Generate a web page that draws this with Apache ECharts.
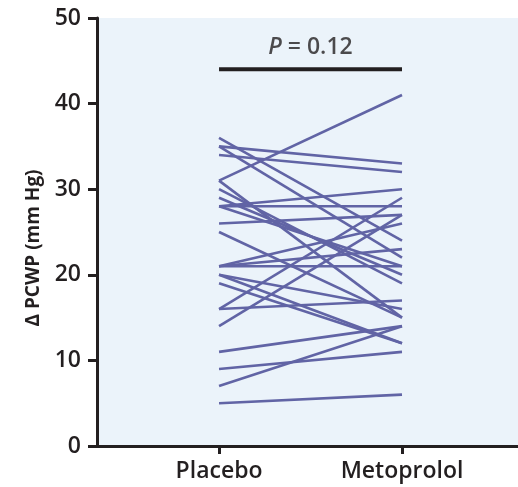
<!DOCTYPE html>
<html><head><meta charset="utf-8">
<script src="https://cdn.jsdelivr.net/npm/echarts@6/dist/echarts.min.js"></script>
<style>html,body{margin:0;padding:0;background:#fff}#c{width:518px;height:487px}</style>
</head><body><div id="c"></div>
<script>
const categories = ['Placebo', 'Metoprolol'];
const placebo    = [36, 35, 35, 34, 31, 31, 30, 29, 28, 28, 28, 26, 25, 21, 21, 21, 20, 20, 19, 16, 16, 14, 11, 9, 7, 5];
const metoprolol = [24, 33, 22, 32, 41, 15, 19, 20, 28, 30, 21, 27, 15, 21, 23, 26, 12, 16, 12, 17, 29, 27, 14, 11, 14, 6];
const yTicks = [0, 10, 20, 30, 40, 50];
const pText = '0.12';
const barLevel = 44;
const labelLevel = 46.6;

const font = '"Open Sans", "Noto Sans", sans-serif';
const dark = '#231f20';
const lineColor = '#6164a5';

const series = placebo.map((p, i) => ({
  type: 'line', symbol: 'none', silent: true,
  lineStyle: { color: lineColor, width: 2.6 },
  data: [[0, p], [1, metoprolol[i]]]
}));
series.push({
  type: 'line', symbol: 'none', silent: true,
  lineStyle: { color: dark, width: 4 },
  data: [[0, barLevel], [1, barLevel]]
});
series.push({
  type: 'scatter', symbolSize: 0, silent: true,
  data: [[0.5, labelLevel]],
  label: {
    show: true, position: 'inside',
    formatter: '{i|P}{n| = ' + pText + '}',
    rich: {
      i: { fontStyle: 'italic', fontWeight: 600, fontFamily: font, fontSize: 23, color: dark },
      n: { fontWeight: 600, fontFamily: font, fontSize: 23, color: dark }
    }
  }
});

const chart = echarts.init(document.getElementById('c'), null, { renderer: 'canvas' });
chart.setOption({
  animation: false,
  grid: { left: 97, right: 0, top: 18, bottom: 41, show: true, backgroundColor: '#ebf3fa', borderWidth: 0 },
  xAxis: {
    type: 'value', min: -0.667, max: 1.634,
    splitLine: { show: false },
    axisLine: { onZero: false, lineStyle: { color: dark, width: 3 } },
    axisTick: { show: true, customValues: [0, 1], length: 8, lineStyle: { color: dark, width: 3 } },
    axisLabel: {
      customValues: [0, 1], margin: 14,
      formatter: v => categories[Math.round(v)] || '',
      fontFamily: font, fontSize: 23, fontWeight: 600, color: dark
    }
  },
  yAxis: {
    type: 'value', min: yTicks[0], max: yTicks[yTicks.length - 1], interval: 10,
    splitLine: { show: false },
    axisLine: { show: true, onZero: false, lineStyle: { color: dark, width: 3 } },
    axisTick: { show: true, length: 9, lineStyle: { color: dark, width: 3 } },
    axisLabel: { margin: 16, fontFamily: font, fontSize: 23, fontWeight: 600, color: dark },
    name: 'Δ PCWP (mm Hg)', nameLocation: 'middle', nameGap: 54, nameRotate: 90,
    nameTextStyle: { fontFamily: font, fontSize: 19, fontWeight: 'bold', color: dark, padding: [0, 32, 0, 0] }
  },
  series: series
});
</script></body></html>
